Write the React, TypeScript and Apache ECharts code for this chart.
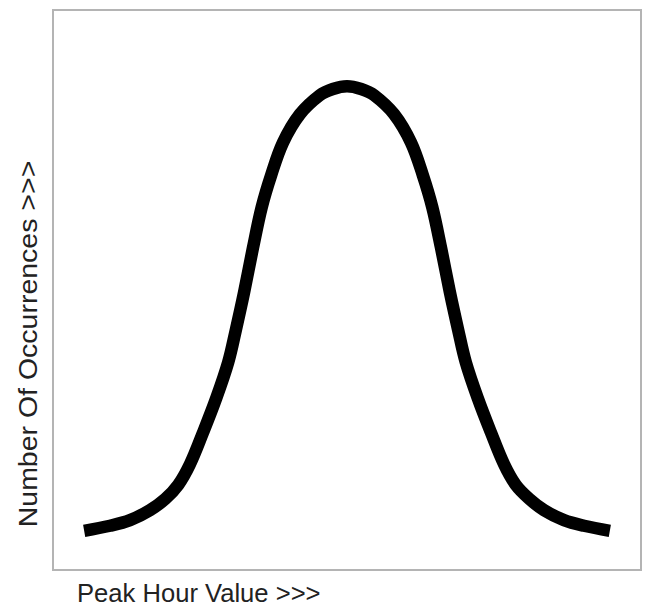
import React, { useEffect, useRef } from "react";
import * as echarts from "echarts";

// Points (chart units 0..100 on both axes)
const xValues = [
  5.3, 9.7, 13.1, 16.5, 19.1, 21.3, 23.3, 25.5, 27.7, 29.8, 31.1, 32.5, 34.0, 35.5, 37.1, 39.1, 42.0, 45.4, 47.6, 50.0,
  52.4, 54.6, 58.0, 60.9, 62.9, 64.5, 66.0, 67.5, 68.9, 70.2, 72.3, 74.5, 76.7, 78.7, 81.0, 83.5, 86.9, 90.3, 94.7,
];
const yValues = [
  7.0, 7.9, 8.9, 10.7, 12.7, 15.2, 18.9, 24.5, 30.5, 37.1, 42.9, 49.6, 57.5, 64.8, 70.5, 76.3, 81.4, 84.8, 85.9, 86.4,
  85.9, 84.8, 81.4, 76.3, 70.5, 64.8, 57.5, 49.6, 42.9, 37.1, 30.5, 24.5, 18.9, 15.2, 12.7, 10.7, 8.9, 7.9, 7.0,
];
const xTitle = "Peak Hour Value >>>";
const yTitle = "Number Of Occurrences >>>";

export default function App() {
  const ref = useRef<HTMLDivElement>(null);
  useEffect(() => {
    if (!ref.current) return;
    const chart = echarts.init(ref.current, null, { renderer: "svg" });
    const font = "Liberation Sans, Arial, sans-serif";
    chart.setOption({
      animation: false,
      backgroundColor: "#ffffff",
      grid: {
        left: 53,
        top: 10,
        width: 588,
        height: 560,
        show: true,
        borderColor: "#b4b4b4",
        borderWidth: 2,
        backgroundColor: "#ffffff",
      },
      xAxis: {
        type: "value",
        min: 0,
        max: 100,
        axisLine: { show: false },
        axisTick: { show: false },
        axisLabel: { show: false },
        splitLine: { show: false },
      },
      yAxis: {
        type: "value",
        min: 0,
        max: 100,
        axisLine: { show: false },
        axisTick: { show: false },
        axisLabel: { show: false },
        splitLine: { show: false },
      },
      series: [
        {
          type: "line",
          data: xValues.map((x, i) => [x, yValues[i]]),
          smooth: 0.35,
          showSymbol: false,
          symbol: "none",
          lineStyle: { color: "#000000", width: 12.5, cap: "butt", join: "round" },
        },
      ],
      graphic: [
        {
          type: "text",
          x: 77,
          y: 606,
          style: {
            text: xTitle,
            font: `25.6px ${font}`,
            fill: "#222222",
            align: "left",
            verticalAlign: "bottom",
          },
        },
        {
          type: "text",
          x: 28.5,
          y: 344,
          rotation: Math.PI / 2,
          scaleX: 1.14,
          style: {
            text: yTitle,
            font: `25px ${font}`,
            fill: "#222222",
            align: "center",
            verticalAlign: "middle",
          },
        },
      ],
    });
    return () => chart.dispose();
  }, []);
  return (
    <div
      ref={ref}
      style={{ position: "fixed", left: 0, top: 0, width: 647, height: 607 }}
    />
  );
}
